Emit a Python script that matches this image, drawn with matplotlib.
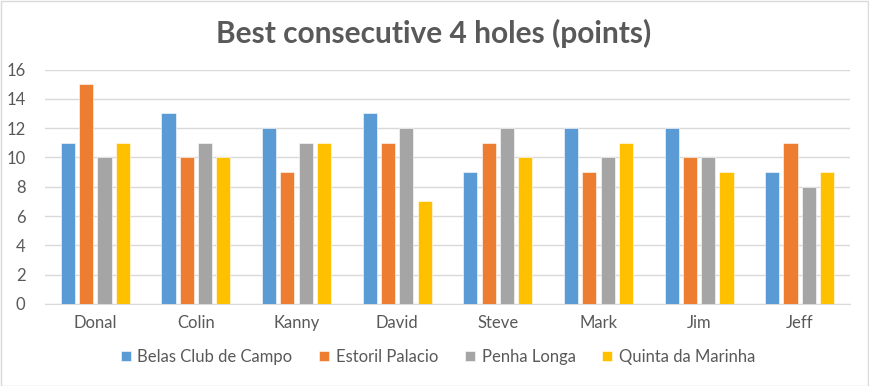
import numpy as np
import matplotlib.pyplot as plt
from matplotlib.patches import Rectangle

players = ["Donal", "Colin", "Kanny", "David", "Steve", "Mark", "Jim", "Jeff"]
courses = ["Belas Club de Campo", "Estoril Palacio", "Penha Longa", "Quinta da Marinha"]
belas = [11, 13, 12, 13, 9, 12, 12, 9]
estoril = [15, 10, 9, 11, 11, 9, 10, 11]
penha = [10, 11, 11, 12, 12, 10, 10, 8]
quinta = [11, 10, 11, 7, 10, 11, 9, 9]
colors = ["#5B9BD5", "#ED7D31", "#A5A5A5", "#FFC000"]

plt.rcParams['font.family'] = ['Lato', 'DejaVu Sans']
text_col = "#595959"

fig = plt.figure(figsize=(8.69, 3.86), dpi=100)
ax = fig.add_axes([45 / 869, 1 - 304 / 386, 805 / 869, 234.5 / 386])

x = np.arange(len(players))
step = 0.182
w = 0.14
for i, (vals, name) in enumerate(zip([belas, estoril, penha, quinta], courses)):
    ax.bar(x + (i - 1.5) * step, vals, width=w, color=colors[i], label=name,
           edgecolor="white", linewidth=0.4, zorder=3)

ax.set_xlim(-0.5, len(players) - 0.5)
ax.set_ylim(0, 16)
ax.set_yticks(range(0, 17, 2))
ax.set_xticks(x)
ax.set_xticklabels(players)
ax.grid(axis="y", color="#D9D9D9", linewidth=1, zorder=0)
for s in ["top", "right", "left"]:
    ax.spines[s].set_visible(False)
ax.spines["bottom"].set_color("#D9D9D9")
ax.tick_params(axis="both", length=0, labelsize=12, colors=text_col)
ax.tick_params(axis="x", pad=8)
ax.tick_params(axis="y", pad=14)

fig.suptitle("Best consecutive 4 holes (points)", x=434 / 869, y=1 - 33 / 386,
             va="center", fontsize=21.5, fontweight="bold", color=text_col)

leg = fig.legend(loc="center", bbox_to_anchor=(438 / 869, 1 - 357 / 386), ncol=4,
                 frameon=False, fontsize=12, handlelength=0.6, handleheight=0.6,
                 handletextpad=0.4, columnspacing=1.6)
for t in leg.get_texts():
    t.set_color(text_col)

fig.patches.append(Rectangle((0.5 / 869, 0.5 / 386), 1 - 1.5 / 869, 1 - 1.5 / 386,
                             transform=fig.transFigure, fill=False,
                             edgecolor="#D9D9D9", linewidth=1))

fig.savefig("out.png", dpi=100)
